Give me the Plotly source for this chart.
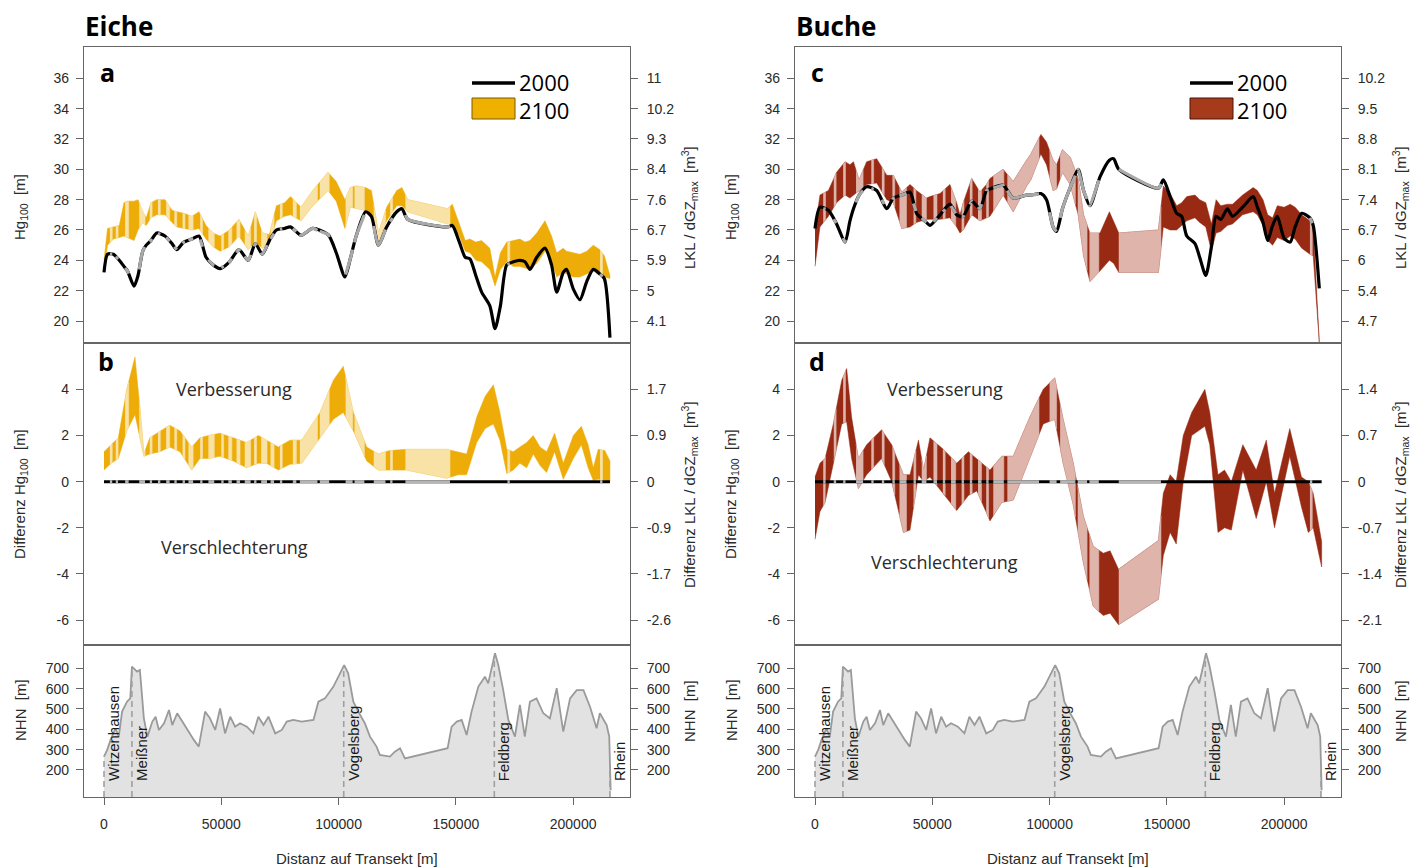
import numpy as np
import plotly.graph_objects as go

# ---------------- data ----------------
# Eiche, panel a: Hg100 in 2000 (line) and 2100 (band upper/lower)
x_e = [0, 1500, 4000, 6500, 8500, 10000, 12800, 14500, 16500, 18000, 20000, 22500, 26000, 29000, 31000,
       34000, 37500, 40500, 43500, 46500, 49500, 53500, 57500, 61500, 64500, 67500, 70500, 73500, 77000,
       79500, 84000, 89000, 95500, 99000, 102700, 105000, 107500, 111500, 114000, 117000, 120500, 124800,
       127000, 129500, 146500, 148500, 151500, 154000, 156000, 158500, 161000, 164500, 166700, 169000,
       171700, 174500, 177300, 179500, 181600, 184500, 188000, 190800, 193000, 195800, 197200, 200100,
       202900, 205800, 208600, 211400, 213300, 215700]
h2000_e = [23.2, 24.4, 24.4, 24.0, 23.6, 23.3, 22.3, 23.0, 24.6, 25.0, 25.3, 25.8, 25.6, 25.1, 24.7,
           25.2, 25.4, 25.6, 24.2, 23.7, 23.45, 23.9, 24.7, 24.0, 25.1, 24.4, 25.3, 26.0, 26.1,
           26.2, 25.65, 26.1, 25.7, 24.5, 22.9, 24.1, 25.6, 27.2, 26.9, 25.0, 26.2, 27.2,
           27.4, 26.7, 26.2, 26.3, 25.2, 24.2, 24.1, 23.0, 21.9, 21.0, 19.5, 21.0,
           23.7, 23.9, 24.0, 23.9, 23.4, 24.2, 24.8, 23.7, 21.9, 23.2, 23.4, 22.1,
           21.4, 22.6, 23.4, 23.1, 22.8, 18.9]
up2100_e = [24.0, 26.1, 26.2, 26.3, 27.8, 27.9, 27.9, 28.0, 27.2, 26.8, 27.8, 28.0, 28.0, 27.3, 27.2,
            27.1, 26.9, 27.2, 26.3, 25.8, 25.6, 26.0, 26.7, 25.6, 27.2, 25.8, 25.7, 27.6, 27.8,
            28.2, 27.5, 28.6, 29.8, 29.2, 28.0, 28.8, 28.9, 28.8, 28.6, 25.8, 27.5, 28.6,
            28.8, 28.0, 27.4, 27.7, 26.4, 25.3, 25.4, 25.2, 25.3, 24.8, 22.9, 24.5,
            25.2, 25.3, 25.4, 25.2, 25.3, 25.8, 26.6, 25.6, 24.5, 24.8, 24.6, 24.5,
            24.4, 24.6, 25.0, 24.7, 24.3, 23.0]
lo2100_e = [23.4, 25.0, 25.4, 25.5, 25.6, 25.5, 25.3, 26.0, 26.5, 26.3, 26.8, 27.0, 27.0, 26.5, 26.2,
            26.1, 26.0, 26.1, 25.4, 24.9, 24.6, 24.9, 25.6, 24.7, 25.2, 24.8, 25.1, 26.6, 26.9,
            27.0, 26.6, 27.6, 28.6, 27.9, 26.1, 27.5, 27.4, 27.3, 27.0, 25.3, 26.6, 27.6,
            27.6, 27.2, 26.4, 26.4, 25.6, 24.6, 24.5, 24.0, 23.9, 23.4, 22.3, 23.4,
            23.9, 23.6, 23.6, 23.5, 23.4, 23.8, 24.6, 24.0, 22.9, 23.2, 23.1, 22.9,
            22.9, 23.1, 23.3, 23.0, 22.9, 22.8]

# Eiche, panel b: difference band
xd_e = [0, 3100, 6100, 9700, 13200, 15500, 17000, 19500, 23900, 28000, 32400, 37400, 40900, 44500, 49400,
        55100, 60800, 65800, 69300, 74300, 79300, 84300, 92100, 97800, 102000, 106300, 112000, 116900,
        121900, 129000, 146100, 151100, 154600, 158900, 162500, 166000, 168800, 171700, 174500, 177300,
        180200, 183000, 185900, 188700, 192100, 195800, 200100, 203500, 206400, 208600, 210700, 213500, 215700]
dup_e = [1.3, 1.6, 1.9, 4.0, 5.4, 3.0, 1.2, 1.9, 2.2, 2.45, 2.2, 1.5, 1.9, 2.0, 2.1,
         1.9, 1.7, 2.0, 1.8, 1.5, 1.8, 1.8, 3.0, 4.4, 5.0, 3.0, 1.5, 1.2,
         1.35, 1.4, 1.4, 1.3, 1.2, 2.8, 3.7, 4.2, 3.0, 1.4, 1.3, 1.5,
         1.7, 2.0, 1.5, 1.3, 2.1, 0.8, 2.0, 2.4, 1.6, 0.6, 1.4, 1.35, 0.9]
dlo_e = [0.5, 0.8, 1.0, 2.2, 2.9, 1.8, 1.1, 1.2, 1.3, 1.5, 1.3, 0.5, 1.0, 1.0, 1.1,
         0.9, 0.6, 0.8, 0.8, 0.5, 0.75, 0.8, 1.9, 2.7, 3.0, 2.2, 0.9, 0.5,
         0.5, 0.5, 0.15, 0.3, 0.3, 1.7, 2.3, 2.5, 1.8, 0.35, 0.5, 0.8,
         0.6, 1.2, 0.7, 0.4, 1.3, 0.1, 1.0, 1.6, 0.6, 0.05, 0.1, 0.05, 0.0]

# Eiche: stretches drawn pale (not significant)
pale_e = [(2500, 3500), (5000, 6000), (9000, 10500), (15000, 17500), (19500, 20500), (23000, 24000),
          (26500, 28000), (30000, 31000), (33500, 34500), (36000, 38000), (41000, 42000), (44500, 47000),
          (50000, 51000), (53000, 54500), (56500, 58000), (60000, 62500), (64000, 65000), (67000, 69500),
          (71000, 72500), (75000, 76000), (80500, 82000), (83500, 91000), (92000, 96000), (103000, 106000),
          (106800, 111000), (115000, 120000), (122000, 123000), (128500, 147500), (172000, 173000),
          (211500, 212500)]

# Buche, panel c
x_b = [0, 2100, 5700, 9200, 12800, 14900, 16400, 18800, 22000, 26300, 30600, 33400, 37000, 40500, 43300,
       47500, 49000, 53300, 57500, 60400, 61800, 63200, 66800, 70300, 73100, 74600, 80200, 84500, 90200,
       92000, 96300, 98700, 101500, 103000, 105500, 108800, 112200, 114500, 117200, 121500, 125500, 127300,
       129500, 146400, 148500, 151400, 154200, 156300, 158500, 162000, 164000, 166600, 169000, 171000,
       173000, 175800, 178000, 182300, 186800, 188600, 191000, 193000, 195100, 197100, 200000, 202600,
       204700, 207500, 211000, 212400, 215000]
h2000_b = [26.1, 27.5, 27.3, 26.4, 25.2, 26.6, 27.4, 28.3, 28.85, 28.6, 27.4, 28.1, 28.3, 28.5, 27.1,
           26.5, 26.3, 27.0, 27.7, 27.0, 26.9, 26.9, 27.9, 27.4, 28.6, 28.7, 28.95, 28.1, 28.3,
           28.3, 28.4, 28.0, 26.2, 25.9, 27.4, 28.8, 30.0, 28.6, 27.6, 29.5, 30.6, 30.7,
           30.0, 28.75, 29.3, 28.2, 27.1, 26.9, 25.6, 25.1, 24.2, 23.0, 24.9, 26.9,
           26.7, 27.4, 26.9, 27.5, 28.2, 27.5, 26.5, 25.3, 26.3, 26.9, 25.45, 25.2,
           26.2, 27.1, 26.8, 26.3, 22.15]
up2100_b = [26.0, 28.3, 28.6, 29.8, 30.5, 30.3, 30.5, 29.3, 30.5, 30.7, 29.6, 29.6, 28.5, 29.0, 28.6,
            28.1, 28.2, 28.4, 29.0, 27.8, 27.0, 27.8, 29.4, 28.5, 29.0, 29.4, 30.0, 29.2, 30.6,
            31.0, 32.3, 31.8, 30.6, 30.3, 31.3, 30.8, 29.4, 27.0, 25.8, 25.8, 27.2, 26.6,
            25.8, 26.0, 28.9, 28.4, 27.6, 27.8, 28.2, 28.3, 28.0, 27.8, 26.4, 28.0,
            27.6, 27.7, 27.7, 28.3, 28.8, 28.6, 28.0, 27.0, 26.8, 27.6, 27.5, 27.7,
            27.5, 27.0, 26.6, 26.2, 18.8]
lo2100_b = [23.6, 26.2, 26.9, 27.8, 28.3, 28.1, 28.3, 28.6, 29.0, 29.1, 28.0, 27.8, 26.1, 26.2, 26.5,
            26.7, 26.7, 26.7, 26.8, 26.2, 25.8, 26.0, 27.0, 26.6, 26.8, 26.9, 28.3, 27.2, 28.9,
            29.3, 31.0, 30.3, 28.6, 28.7, 29.8, 29.0, 27.0, 24.3, 22.6, 23.3, 24.0, 23.8,
            23.2, 23.2, 26.2, 26.0, 26.0, 26.3, 26.6, 26.8, 26.5, 26.2, 24.6, 25.8,
            25.9, 26.3, 26.4, 27.0, 27.2, 27.0, 26.3, 25.3, 25.0, 25.5, 25.3, 25.6,
            25.4, 24.8, 24.4, 24.3, 18.6]

# Buche, panel d
xd_b = [0, 2100, 4300, 7800, 11400, 13500, 15600, 18500, 22000, 28400, 32700, 37700, 40500, 44100, 46300,
        49000, 54700, 60400, 65400, 69000, 74600, 79600, 84500, 91600, 97300, 102200, 105800, 110100,
        114400, 118600, 122900, 125800, 129400, 146400, 148500, 151400, 154000, 157000, 160600, 166200,
        168300, 171800, 174600, 177500, 182400, 188100, 192400, 195900, 202400, 207400, 210300, 212400, 216000]
dup_b = [0.2, 0.8, 1.0, 2.5, 4.4, 4.9, 2.8, 1.0, 1.6, 2.25, 1.6, 0.3, 0.3, 1.8, 0.5,
         1.9, 1.4, 0.8, 1.3, 1.0, 0.5, 1.1, 1.1, 2.8, 4.0, 4.5, 2.7, 0.8,
         -1.5, -2.8, -3.1, -3.0, -3.8, -2.55, -0.5, 0.3, 0.0, 2.0, 3.0, 4.0,
         3.0, 0.3, 0.5, 0.0, 1.6, 0.5, 1.8, -0.5, 2.3, 0.2, 0.0, -0.5, -2.6]
dlo_b = [-2.5, -1.3, -0.9, 0.8, 2.5, 2.6, 1.0, -0.3, 0.3, 1.0, 0.0, -2.2, -2.1, 0.3, 0.0,
         0.2, -0.5, -1.25, -0.6, -0.4, -1.7, -0.9, -0.8, 1.0, 2.5, 2.7, 0.8, -1.0,
         -3.5, -5.4, -5.8, -5.7, -6.2, -5.1, -3.2, -2.2, -2.7, 0.0, 2.0, 2.4,
         1.6, -2.2, -2.0, -2.1, 0.5, -1.6, 0.0, -2.0, 1.1, -1.1, -2.2, -2.0, -3.7]

pale_b = [(3500, 4500), (8000, 9000), (12000, 13000), (17500, 20500), (24000, 25000), (28500, 29500),
          (33000, 34000), (36000, 39000), (42000, 43000), (45500, 47500), (50500, 52000), (54500, 55500),
          (58000, 60000), (62500, 63500), (66000, 67000), (69500, 71000), (73000, 74000), (76000, 80500),
          (82000, 95500), (100000, 103000), (104500, 111000), (112000, 116000), (117000, 121000),
          (129500, 147500), (211000, 212000)]

# Elevation profile (NHN, m), shared by both columns
x_elev = [0, 1400, 2800, 4900, 6300, 7700, 9800, 11200, 11900, 14100, 15300, 17000, 18500, 20600, 22000,
          23400, 25600, 27700, 29100, 31200, 33400, 35500, 38300, 40400, 43100, 45200, 47400, 49500, 51600,
          53800, 55900, 58000, 60900, 63700, 65800, 68000, 70100, 73000, 75800, 77900, 80700, 84300, 89300,
          91400, 94200, 97800, 100600, 102400, 104100, 106300, 108400, 111200, 113400, 116200, 117600,
          121900, 124000, 126200, 128300, 146500, 148200, 150400, 152500, 154600, 156700, 159600, 162400,
          163800, 166700, 168100, 170200, 172400, 175200, 177300, 179400, 181600, 184400, 187300, 190100,
          193000, 195800, 198700, 201500, 204400, 207200, 210000, 211400, 214300, 215400, 216000]
elev = [266, 300, 348, 405, 364, 487, 536, 552, 708, 684, 692, 454, 364, 438, 462,
        397, 430, 495, 421, 479, 438, 397, 348, 315, 487, 454, 397, 503, 380,
        462, 413, 430, 413, 380, 462, 421, 462, 380, 397, 438, 446, 438, 446,
        536, 552, 610, 675, 716, 675, 536, 487, 430, 364, 315, 274,
        266, 290, 307, 257, 307, 413, 438, 446, 372, 487, 610, 659,
        626, 774, 716, 593, 446, 364, 520, 364, 536, 552, 479, 454,
        602, 389, 552, 593, 593, 511, 405, 479, 421, 364, 100]

places = ["Witzenhausen", "Meißner", "Vogelsberg", "Feldberg", "Rhein"]
place_x = [0, 11900, 102200, 166400, 215700]

hg_ticks = [36, 34, 32, 30, 28, 26, 24, 22, 20]
lkl_labels_e = ["11", "10.2", "9.3", "8.4", "7.6", "6.7", "5.9", "5", "4.1"]
lkl_labels_b = ["10.2", "9.5", "8.8", "8.1", "7.4", "6.7", "6", "5.4", "4.7"]
diff_ticks = [4, 2, 0, -2, -4, -6]
dlkl_labels_e = ["1.7", "0.9", "0", "-0.9", "-1.7", "-2.6"]
dlkl_labels_b = ["1.4", "0.7", "0", "-0.7", "-1.4", "-2.1"]
nhn_ticks = [700, 600, 500, 400, 300, 200]
dist_ticks = [0, 50000, 100000, 150000, 200000]

# ---------------- styling / geometry ----------------
# the page body has an 8px margin, so the figure is placed 8px in from the window corner
OFF = 8
W, H = 1423 - OFF, 867 - OFF
def PX(v): return (v - OFF) / W
def PY(v): return 1 - (v - OFF) / H

XR = [-8530, 224250]
TOP_R = [18.55, 38.06]
MID_R = [-7.08, 6.01]
BOT_R = [67.2, 814.6]
cols = [(84, 630), (795, 1341)]
rows = [(47, 343), (343, 645), (645, 797)]

AX = "#666666"
TICKFONT = dict(family="Liberation Sans, Arial, sans-serif", size=14, color="#2a2a2a")
LBLFONT = dict(family="Liberation Sans, Arial, sans-serif", size=15, color="#2a2a2a")
OS = "Open Sans, Noto Sans, sans-serif"

species = [
    dict(name="Eiche", x=x_e, h=h2000_e, up=up2100_e, lo=lo2100_e, xd=xd_e, dup=dup_e, dlo=dlo_e,
         pale=pale_e, dark="#EDAC08", light="#F8E2A6", legend="#F0B000", legend_edge="#7a5a00",
         rl=lkl_labels_e, drl=dlkl_labels_e, letters=("a", "b"), leg_dx=388),
    dict(name="Buche", x=x_b, h=h2000_b, up=up2100_b, lo=lo2100_b, xd=xd_b, dup=dup_b, dlo=dlo_b,
         pale=pale_b, dark="#982912", light="#DEB4AB", legend="#A63B1C", legend_edge="#4a1405",
         rl=lkl_labels_b, drl=dlkl_labels_b, letters=("c", "d"), leg_dx=395),
]


def band_poly(x, up, lo):
    return list(x) + list(x)[::-1], list(up) + list(lo)[::-1]


def pale_polys(x, up, lo, intervals):
    X, Y = [], []
    for a, b in intervals:
        a = max(a, x[0]); b = min(b, x[-1])
        if b <= a:
            continue
        xs = [a] + [v for v in x if a < v < b] + [b]
        u = np.interp(xs, x, up); l = np.interp(xs, x, lo)
        X += xs + xs[::-1] + [None]
        Y += list(u) + list(l[::-1]) + [None]
    return X, Y


def pale_lines(x, y, intervals):
    X, Y = [], []
    for a, b in intervals:
        a = max(a, x[0]); b = min(b, x[-1])
        if b <= a:
            continue
        xs = [a] + [v for v in x if a < v < b] + [b]
        X += xs + [None]
        Y += list(np.interp(xs, x, y)) + [None]
    return X, Y


fig = go.Figure()
layout = dict(width=W, height=H, margin=dict(l=0, r=0, t=0, b=0), plot_bgcolor="white",
              paper_bgcolor="white", showlegend=False)
annotations, shapes = [], []


def axname(kind, n):
    return kind if n == 1 else f"{kind}{n}"


for c, sp in enumerate(species):
    cx0, cx1 = cols[c]
    for r in range(3):
        n = c * 3 + r + 1
        nr = n + 6
        ry0, ry1 = rows[r]
        rng = [TOP_R, MID_R, BOT_R][r]
        tv = [hg_ticks, diff_ticks, nhn_ticks][r]
        rt = [sp["rl"], sp["drl"], [str(v) for v in nhn_ticks]][r]
        xa = dict(domain=[PX(cx0), PX(cx1)], range=XR, anchor=axname("y", n), showline=True, mirror=True,
                  linecolor=AX, linewidth=1.3, showgrid=False, zeroline=False, fixedrange=True)
        if r == 2:
            xa.update(ticks="outside", ticklen=7, tickwidth=1.3, tickcolor=AX, tickvals=dist_ticks,
                      ticktext=[str(v) for v in dist_ticks], tickfont=TICKFONT, showticklabels=True,
                      ticklabelstandoff=7)
        else:
            xa.update(showticklabels=False, ticks="")
        layout[axname("xaxis", n)] = xa
        layout[axname("yaxis", n)] = dict(domain=[PY(ry1), PY(ry0)], range=rng, anchor=axname("x", n),
                                          showline=True, mirror=True, linecolor=AX, linewidth=1.3,
                                          showgrid=False, zeroline=False, ticks="outside", ticklen=7,
                                          tickwidth=1.3, tickcolor=AX, tickvals=tv,
                                          ticktext=[str(v) for v in tv], tickfont=TICKFONT, fixedrange=True,
                                          ticklabelstandoff=4)
        layout[f"yaxis{nr}"] = dict(overlaying=axname("y", n), side="right", anchor=axname("x", n), range=rng,
                                    showline=False, showgrid=False, zeroline=False, ticks="outside",
                                    ticklen=7, tickwidth=1.3, tickcolor=AX, tickvals=tv, ticktext=rt,
                                    tickfont=TICKFONT, fixedrange=True, ticklabelstandoff=6)
        fig.add_trace(go.Scatter(x=[None], y=[None], xaxis=axname("x", n), yaxis=f"y{nr}",
                                 hoverinfo="skip", showlegend=False))

    # ---- top panel
    xa_, ya_ = axname("x", c * 3 + 1), axname("y", c * 3 + 1)
    bx, by = band_poly(sp["x"], sp["up"], sp["lo"])
    fig.add_trace(go.Scatter(x=bx, y=by, fill="toself", fillcolor=sp["dark"], mode="lines",
                             line=dict(width=0.5, color=sp["dark"]), xaxis=xa_, yaxis=ya_, hoverinfo="skip"))
    px_, py_ = pale_polys(sp["x"], sp["up"], sp["lo"], sp["pale"])
    fig.add_trace(go.Scatter(x=px_, y=py_, fill="toself", fillcolor=sp["light"], mode="lines",
                             line=dict(width=0.6, color=sp["light"]), xaxis=xa_, yaxis=ya_, hoverinfo="skip"))
    fig.add_trace(go.Scatter(x=sp["x"], y=sp["h"], mode="lines",
                             line=dict(color="black", width=3.2, shape="spline", smoothing=0.7),
                             xaxis=xa_, yaxis=ya_, hoverinfo="skip"))
    gx, gy = pale_lines(sp["x"], sp["h"], sp["pale"])
    fig.add_trace(go.Scatter(x=gx, y=gy, mode="lines",
                             line=dict(color="#a9a9a9", width=3.2, shape="spline", smoothing=0.7),
                             xaxis=xa_, yaxis=ya_, hoverinfo="skip"))

    # ---- middle panel
    xa_, ya_ = axname("x", c * 3 + 2), axname("y", c * 3 + 2)
    bx, by = band_poly(sp["xd"], sp["dup"], sp["dlo"])
    fig.add_trace(go.Scatter(x=bx, y=by, fill="toself", fillcolor=sp["dark"], mode="lines",
                             line=dict(width=0.5, color=sp["dark"]), xaxis=xa_, yaxis=ya_, hoverinfo="skip"))
    px_, py_ = pale_polys(sp["xd"], sp["dup"], sp["dlo"], sp["pale"])
    fig.add_trace(go.Scatter(x=px_, y=py_, fill="toself", fillcolor=sp["light"], mode="lines",
                             line=dict(width=0.6, color=sp["light"]), xaxis=xa_, yaxis=ya_, hoverinfo="skip"))
    zx = [sp["xd"][0], sp["xd"][-1]]
    fig.add_trace(go.Scatter(x=zx, y=[0, 0], mode="lines", line=dict(color="black", width=3),
                             xaxis=xa_, yaxis=ya_, hoverinfo="skip"))
    gx, gy = pale_lines(zx, [0, 0], sp["pale"])
    fig.add_trace(go.Scatter(x=gx, y=gy, mode="lines", line=dict(color="#b5b5b5", width=3),
                             xaxis=xa_, yaxis=ya_, hoverinfo="skip"))

    # ---- bottom panel
    xa_, ya_ = axname("x", c * 3 + 3), axname("y", c * 3 + 3)
    fig.add_trace(go.Scatter(x=x_elev, y=elev, mode="lines", fill="tozeroy", fillcolor="#e2e2e2",
                             line=dict(color="#9a9a9a", width=1.8), xaxis=xa_, yaxis=ya_, hoverinfo="skip"))
    dx, dy = [], []
    for pxv in place_x:
        dx += [pxv, pxv, None]
        dy += [BOT_R[0], float(np.interp(pxv, x_elev, elev)), None]
    fig.add_trace(go.Scatter(x=dx, y=dy, mode="lines", line=dict(color="#a0a0a0", width=1.6, dash="6px,4px"),
                             xaxis=xa_, yaxis=ya_, hoverinfo="skip"))
    for name, pxv in zip(places, place_x):
        annotations.append(dict(x=pxv, y=136, xref=xa_, yref=ya_, text=name, showarrow=False,
                                textangle=-90, xanchor="left", yanchor="bottom", xshift=-1,
                                font=dict(family="Liberation Sans, Arial, sans-serif", size=15, color="#1a1a1a")))

    # ---- texts
    mid = (cx0 + cx1) / 2
    annotations.append(dict(x=PX(cx0 - 1), y=PY(26), xref="paper", yref="paper", text=f"<b>{sp['name']}</b>",
                            showarrow=False, xanchor="left", yanchor="middle",
                            font=dict(family=OS, size=26, color="black")))
    annotations.append(dict(x=PX(cx0 + 23), y=PY(72), xref="paper", yref="paper", text=f"<b>{sp['letters'][0]}</b>",
                            showarrow=False, xanchor="center", yanchor="middle",
                            font=dict(family=OS, size=25, color="black")))
    annotations.append(dict(x=PX(cx0 + 22), y=PY(361), xref="paper", yref="paper", text=f"<b>{sp['letters'][1]}</b>",
                            showarrow=False, xanchor="center", yanchor="middle",
                            font=dict(family=OS, size=25, color="black")))
    vx = cx0 + 150
    annotations.append(dict(x=PX(vx), y=PY(389), xref="paper", yref="paper", text="Verbesserung",
                            showarrow=False, xanchor="center", yanchor="middle",
                            font=dict(family=OS, size=18, color="#2a2a2a")))
    annotations.append(dict(x=PX(vx), y=PY(547 if c == 0 else 562), xref="paper", yref="paper",
                            text="Verschlechterung", showarrow=False, xanchor="center", yanchor="middle",
                            font=dict(family=OS, size=18, color="#2a2a2a")))
    annotations.append(dict(x=PX(mid), y=PY(858), xref="paper", yref="paper", text="Distanz auf Transekt [m]",
                            showarrow=False, xanchor="center", yanchor="middle", font=LBLFONT))
    lx = cx0 - 64
    rx = cx1 + 59
    for txt, yc in [("Hg<sub>100</sub>  [m]", 207), ("Differenz Hg<sub>100</sub>  [m]", 494), ("NHN  [m]", 710)]:
        annotations.append(dict(x=PX(lx), y=PY(yc), xref="paper", yref="paper", text=txt, showarrow=False,
                                textangle=-90, xanchor="center", yanchor="middle", font=LBLFONT))
    for txt, yc in [("LKL / dGZ<sub>max</sub>  [m<sup>3</sup>]", 208),
                    ("Differenz LKL / dGZ<sub>max</sub>  [m<sup>3</sup>]", 495), ("NHN  [m]", 711)]:
        annotations.append(dict(x=PX(rx), y=PY(yc), xref="paper", yref="paper", text=txt, showarrow=False,
                                textangle=-90, xanchor="center", yanchor="middle", font=LBLFONT))

    # ---- legend (drawn)
    l0 = cx0 + sp["leg_dx"]
    shapes.append(dict(type="line", xref="paper", yref="paper", x0=PX(l0), x1=PX(l0 + 43), y0=PY(83), y1=PY(83),
                       line=dict(color="black", width=3.5)))
    shapes.append(dict(type="rect", xref="paper", yref="paper", x0=PX(l0), x1=PX(l0 + 43), y0=PY(119), y1=PY(98),
                       fillcolor=sp["legend"], line=dict(color=sp["legend_edge"], width=1)))
    annotations.append(dict(x=PX(l0 + 45), y=PY(82), xref="paper", yref="paper", text="2000", showarrow=False,
                            xanchor="left", yanchor="middle", font=dict(family=OS, size=22, color="black")))
    annotations.append(dict(x=PX(l0 + 45), y=PY(110), xref="paper", yref="paper", text="2100", showarrow=False,
                            xanchor="left", yanchor="middle", font=dict(family=OS, size=22, color="black")))

layout["annotations"] = annotations
layout["shapes"] = shapes
fig.update_layout(**layout)
fig.write_html("out.html")
